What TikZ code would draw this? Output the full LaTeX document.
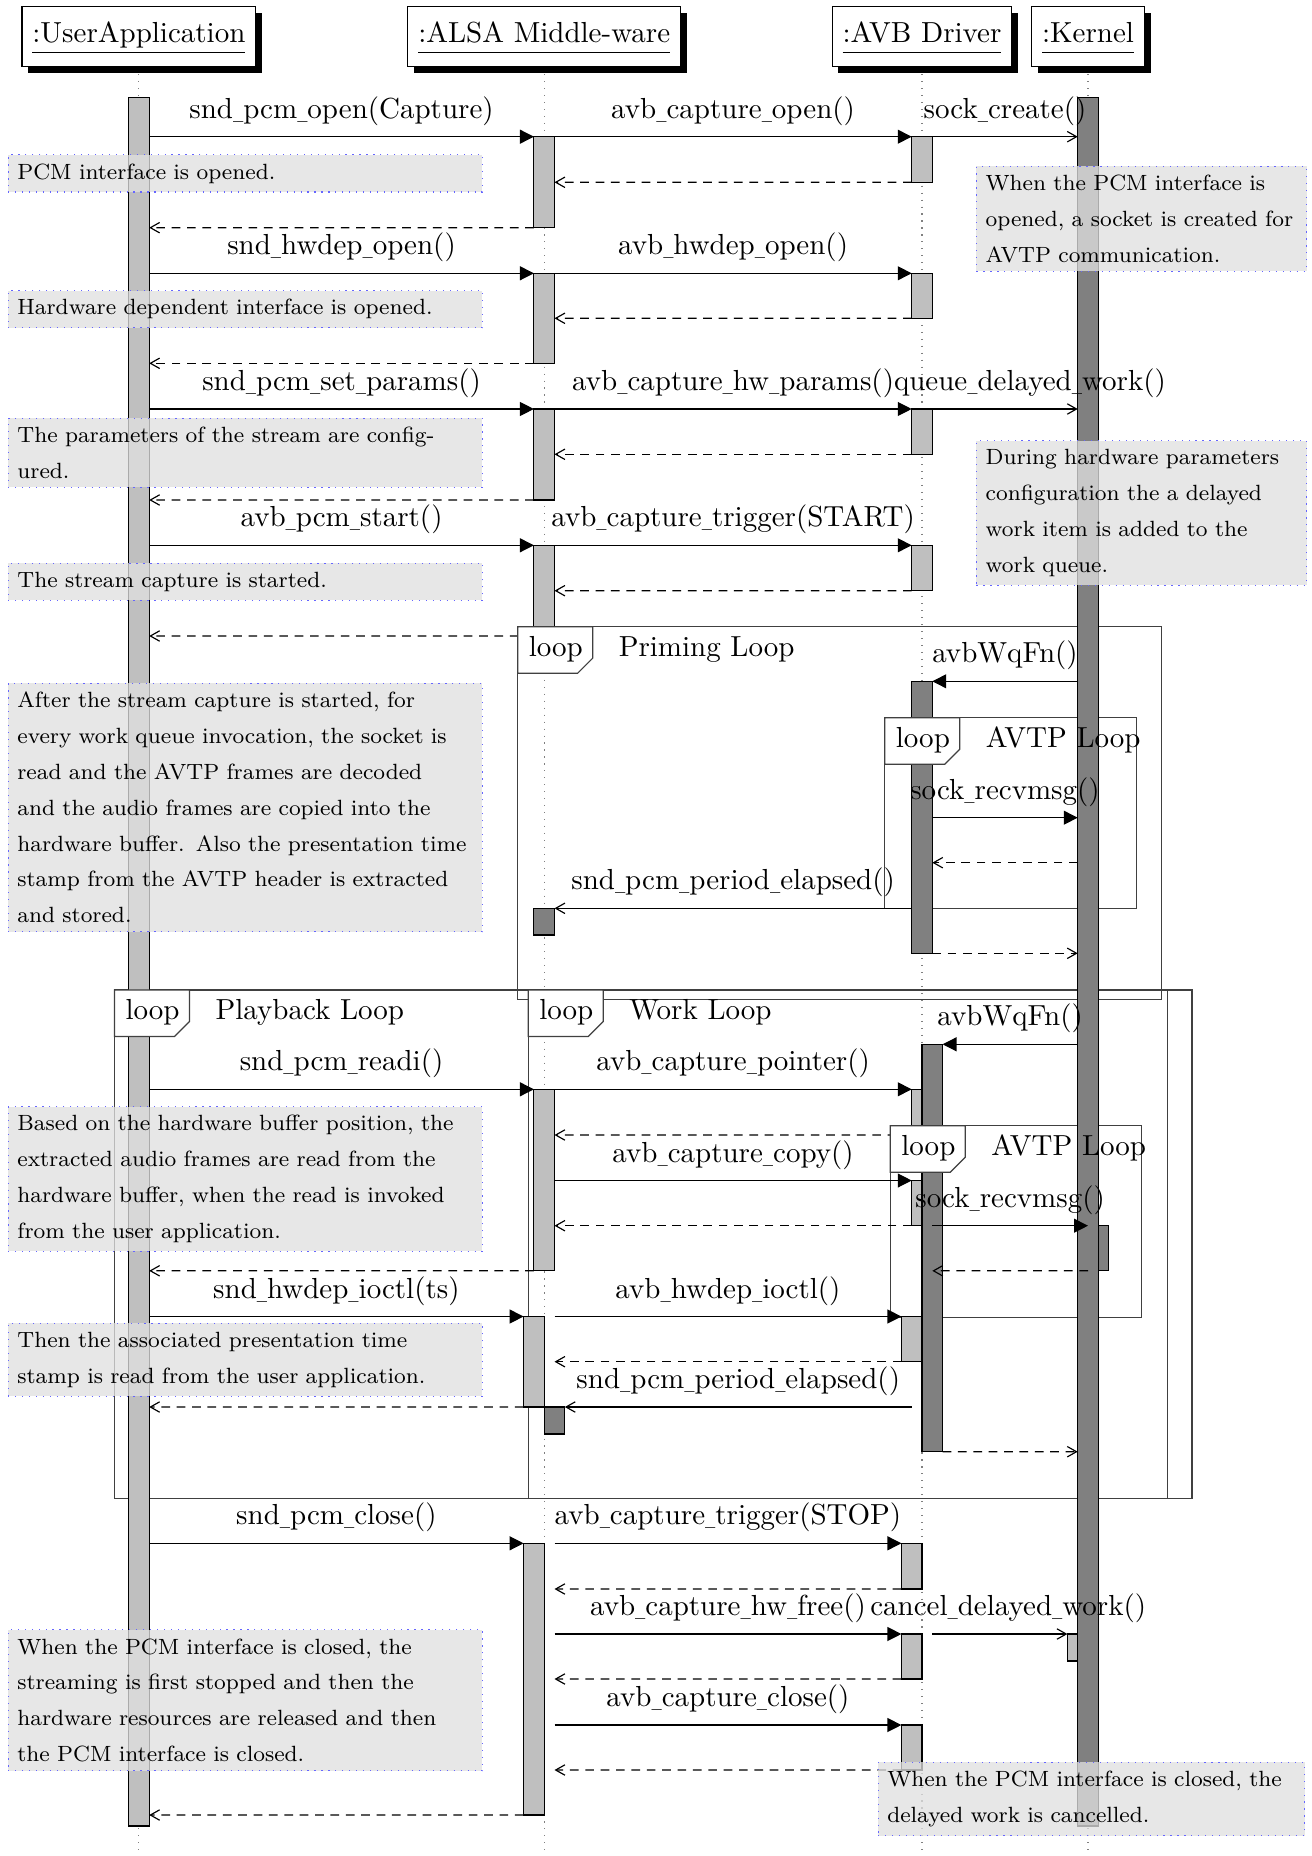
\documentclass[tikz,border=0pt]{standalone}
\usepackage{graphicx}
\usetikzlibrary{arrows.meta,shadows}
% narrow underscore used in the call names
\newcommand{\us}{\scalebox{0.47}[1]{\_}}
% activation bar: style, x1, y1, x2, y2, name
\newcommand{\actbar}[6]{\node[#1, anchor=north west, minimum width={(#4-#2)*0.3448pt}, minimum height={(#5-#3)*0.3448pt}] (#6) at (#2,#3) {};}
% loop tag: x, y, title, name
\newcommand{\looptag}[4]{%
  \filldraw[looptag] (#1,#2) -- ++(75,0) -- ++(0,31.5) -- ++(-15,15) -- ++(-60,0) -- cycle;
  \node[looptxt] (#4k) at (#1+10.5,#2+29.5) {loop};
  \node[looptxt] (#4t) at (#1+100.5,#2+29.5) {#3};}
\begin{document}
\begin{tikzpicture}[x=0.3448pt,y=-0.3448pt,
  lifeline/.style={draw=gray, dotted},
  head/.style={draw=black, fill=white, inner xsep=3.6pt, inner ysep=0pt, minimum height=20.7pt,
    text height=6.94pt, text depth=2.8pt,
    drop shadow={shadow xshift=2.1pt, shadow yshift=-2.3pt, opacity=1, fill=black}},
  actlight/.style={draw=black, fill=black!25, inner sep=0pt, outer sep=0pt},
  actdark/.style={draw=black, fill=black!50, inner sep=0pt, outer sep=0pt},
  call/.style={draw, -{Triangle[length=4.8pt,width=4.8pt]}},
  mess/.style={draw, -{Straight Barb[length=3.2pt,width=3.6pt]}},
  ret/.style={draw, dash pattern=on 3pt off 2.3pt, -{Straight Barb[length=3.2pt,width=3.6pt]}},
  lbl/.style={midway, anchor=base, yshift=6.34pt, inner sep=0pt},
  frame/.style={draw=black!75},
  looptag/.style={draw=black!75, fill=white},
  looptxt/.style={anchor=base west, inner sep=0pt},
  note/.style={anchor=north west, draw=blue!60, dotted, fill=black!12, fill opacity=0.76,
    text opacity=1, inner xsep=3.17pt, inner ysep=3pt, align=left,
    font=\fontsize{7.6pt}{12.36pt}\selectfont},
]
\useasboundingbox (0,0) rectangle (1311,1856);

% row levels
\foreach \n/\yy in {1/136.7,2/182.3,3/227.7,4/273.3,5/318.3,6/363.3,7/409,8/454.3,9/500,
  10/545.3,11/590.7,12/636,13/681.3,14/817.7,15/862.7,16/908.3,17/953.3,18/1044.3,
  19/1089.3,20/1135,21/1180.5,22/1225.7,23/1270.8,24/1316.5,25/1361.7,26/1407,
  27/1451.7,28/1543.3,29/1589,30/1634,31/1679,32/1725,33/1770,34/1815}
  {\coordinate (r\n) at (0,\yy);}
\coordinate (bot) at (0,1856);
\coordinate (Ar) at (554.5,0);
\coordinate (Vl) at (911.7,0);
\coordinate (Vr) at (932.3,0);

% lifeline heads
\node[head] (hU) at (138.9,36.7) {\underline{\vphantom{p}:UserApplication}};
\node[head] (hA) at (544.2,36.7) {\underline{\vphantom{p}:ALSA Middle-ware}};
\node[head] (hV) at (922,36.7) {\underline{\vphantom{p}:AVB Driver}};
\node[head] (hK) at (1088,36.7) {\underline{\vphantom{p}:Kernel}};

% lifelines
\draw[lifeline] ([yshift=-2.4pt]hU.south) -- (hU.south |- bot);
\draw[lifeline] ([yshift=-2.4pt]hA.south) -- (hA.south |- bot);
\draw[lifeline] ([yshift=-2.4pt]hV.south) -- (hV.south |- bot);
\draw[lifeline] ([yshift=-2.4pt]hK.south) -- (hK.south |- bot);

% combined fragments
\draw[frame] (517.7,626.7) rectangle (1161.2,999.3);
\draw[frame] (114.5,990) rectangle (1192,1498.3);
\draw[frame] (528.2,990) rectangle (1167.2,1498.3);
\draw[frame] (884.8,717.7) rectangle (1136.4,908.7);
\draw[frame] (890.3,1125.7) rectangle (1141.5,1317.3);

% activation bars
\actbar{actlight}{128.6}{97.7}{149.2}{1826}{bU}
\actbar{actlight}{1067.4}{1634}{1088}{1661}{bKc}
\actbar{actdark}{1088}{1225.7}{1108.6}{1270.8}{bKr}
\actbar{actdark}{1077.7}{97.7}{1098.3}{1826}{bK}

\actbar{actlight}{533.9}{136.7}{554.5}{227.7}{bA1}
\actbar{actlight}{533.9}{273.3}{554.5}{363.3}{bA2}
\actbar{actlight}{533.9}{409}{554.5}{500}{bA3}
\actbar{actlight}{533.9}{545.3}{554.5}{636}{bA4}
\actbar{actlight}{533.9}{1089.3}{554.5}{1270.8}{bA5}
\actbar{actlight}{523.6}{1316.5}{544.2}{1407}{bA6}
\actbar{actlight}{523.6}{1543.3}{544.2}{1815}{bA7}
\actbar{actdark}{533.9}{908.3}{554.5}{935}{bA8}
\actbar{actdark}{544.2}{1407}{564.8}{1434}{bA9}

\actbar{actlight}{911.7}{136.7}{932.3}{182.3}{bV1}
\actbar{actlight}{911.7}{273.3}{932.3}{318.3}{bV2}
\actbar{actlight}{911.7}{409}{932.3}{454.3}{bV3}
\actbar{actlight}{911.7}{545.3}{932.3}{590.7}{bV4}
\actbar{actdark}{911.7}{681.3}{932.3}{953.3}{bV5}
\actbar{actlight}{911.7}{1089.3}{932.3}{1135}{bV6}
\actbar{actlight}{911.7}{1180.5}{932.3}{1225.7}{bV7}
\actbar{actdark}{922}{1044.3}{942.6}{1451.7}{bVw}
\actbar{actlight}{901.4}{1316.5}{922}{1361.7}{bV8}
\actbar{actlight}{901.4}{1543.3}{922}{1589}{bV9}
\actbar{actlight}{901.4}{1634}{922}{1679}{bV10}
\actbar{actlight}{901.4}{1725}{922}{1770}{bV11}

% open
\draw[call] (bU.east|-r1) -- node[lbl] (l1) {snd\us pcm\us open(Capture)} (bA1.north west);
\draw[call] (bA1.east|-r1) -- node[lbl] (l2) {avb\us capture\us open()} (bV1.north west);
\draw[mess] (bV1.east|-r1) -- node[lbl] (l3) {sock\us create()} (bK.west|-r1);
\draw[ret] (bV1.south west) -- (bA1.east|-r2);
\draw[ret] (bA1.south west) -- (bU.east|-r3);
% hwdep open
\draw[call] (bU.east|-r4) -- node[lbl] (l4) {snd\us hwdep\us open()} (bA2.north west);
\draw[call] (bA2.east|-r4) -- node[lbl] (l5) {avb\us hwdep\us open()} (bV2.north west);
\draw[ret] (bV2.south west) -- (bA2.east|-r5);
\draw[ret] (bA2.south west) -- (bU.east|-r6);
% params
\draw[call] (bU.east|-r7) -- node[lbl] (l6) {snd\us pcm\us set\us params()} (bA3.north west);
\draw[call] (bA3.east|-r7) -- node[lbl] (l7) {avb\us capture\us hw\us params()} (bV3.north west);
\draw[mess] (bV3.east|-r7) -- node[lbl, xshift=8.6pt] (l8) {queue\us delayed\us work()} (bK.west|-r7);
\draw[ret] (bV3.south west) -- (bA3.east|-r8);
\draw[ret] (bA3.south west) -- (bU.east|-r9);
% start
\draw[call] (bU.east|-r10) -- node[lbl] (l9) {avb\us pcm\us start()} (bA4.north west);
\draw[call] (bA4.east|-r10) -- node[lbl] (l10) {avb\us capture\us trigger(START)} (bV4.north west);
\draw[ret] (bV4.south west) -- (bA4.east|-r11);
\draw[ret] (bA4.south west) -- (bU.east|-r12);
% priming loop
\draw[call] (bK.west|-r13) -- node[lbl] (l11) {avbWqFn()} (bV5.north east);
\draw[call] (bV5.east|-r14) -- node[lbl] (l12) {sock\us recvmsg()} (bK.west|-r14);
\draw[ret] (bK.west|-r15) -- (bV5.east|-r15);
\draw[mess] (bV5.west|-r16) -- node[lbl] (l13) {snd\us pcm\us period\us elapsed()} (bA8.north east);
\draw[ret] (bV5.south east) -- (bK.west|-r17);
% work loop
\draw[call] (bK.west|-r18) -- node[lbl] (l14) {avbWqFn()} (bVw.north east);
\draw[call] (bU.east|-r19) -- node[lbl] (l15) {snd\us pcm\us readi()} (bA5.north west);
\draw[call] (bA5.east|-r19) -- node[lbl] (l16) {avb\us capture\us pointer()} (bV6.north west);
\draw[ret] (bV6.south west) -- (bA5.east|-r20);
\draw[call] (bA5.east|-r21) -- node[lbl] (l17) {avb\us capture\us copy()} (bV7.north west);
\draw[ret] (bV7.south west) -- (bA5.east|-r22);
\draw[call] (Vr|-r22) -- node[lbl] (l18) {sock\us recvmsg()} (bKr.north west);
\draw[ret] (bKr.south west) -- (Vr|-r23);
\draw[ret] (bA5.south west) -- (bU.east|-r23);
\draw[call] (bU.east|-r24) -- node[lbl] (l19) {snd\us hwdep\us ioctl(ts)} (bA6.north west);
\draw[call] (Ar|-r24) -- node[lbl] (l20) {avb\us hwdep\us ioctl()} (bV8.north west);
\draw[ret] (bV8.south west) -- (Ar|-r25);
\draw[mess] (Vl|-r26) -- node[lbl] (l21) {snd\us pcm\us period\us elapsed()} (bA9.north east);
\draw[ret] (bA6.south west) -- (bU.east|-r26);
\draw[ret] (bVw.south east) -- (bK.west|-r27);
% close
\draw[call] (bU.east|-r28) -- node[lbl] (l22) {snd\us pcm\us close()} (bA7.north west);
\draw[call] (Ar|-r28) -- node[lbl] (l23) {avb\us capture\us trigger(STOP)} (bV9.north west);
\draw[ret] (bV9.south west) -- (Ar|-r29);
\draw[call] (Ar|-r30) -- node[lbl] (l24) {avb\us capture\us hw\us free()} (bV10.north west);
\draw[mess] (Vr|-r30) -- node[lbl, xshift=2.9pt] (l25) {cancel\us delayed\us work()} (bKc.north west);
\draw[ret] (bV10.south west) -- (Ar|-r31);
\draw[call] (Ar|-r32) -- node[lbl] (l26) {avb\us capture\us close()} (bV11.north west);
\draw[ret] (bV11.south west) -- (Ar|-r33);
\draw[ret] (bA7.south west) -- (bU.east|-r34);

% fragment tags
\looptag{517.7}{626.7}{Priming Loop}{fp}
\looptag{884.8}{717.7}{AVTP Loop}{fa}
\looptag{114.5}{990}{Playback Loop}{fb}
\looptag{528.2}{990}{Work Loop}{fw}
\looptag{890.3}{1125.7}{AVTP Loop}{fc}

% notes
\node[note, text width=157.2pt] (n1) at (7.6,154.3) {\mbox{PCM interface is opened.}};
\node[note, text width=157.2pt] (n2) at (7.6,290) {\mbox{Hardware dependent interface is opened.}};
\node[note, text width=107.5pt] (n3) at (975.9,165.7) {\mbox{When the PCM interface is}\\\mbox{opened, a socket is created for}\\\mbox{AVTP communication.}};
\node[note, text width=157.2pt] (n4) at (7.6,417.7) {\mbox{The parameters of the stream are config-}\\\mbox{ured.}};
\node[note, text width=157.2pt] (n5) at (7.6,562.7) {\mbox{The stream capture is started.}};
\node[note, text width=107.5pt] (n6) at (975.9,440) {\mbox{During hardware parameters}\\\mbox{configuration the a delayed}\\\mbox{work item is added to the}\\\mbox{work queue.}};
\node[note, text width=157.2pt] (n7) at (7.6,682.7) {\mbox{After the stream capture is started, for}\\\mbox{every work queue invocation, the socket is}\\\mbox{read and the AVTP frames are decoded}\\\mbox{and the audio frames are copied into the}\\\mbox{hardware buffer.  Also the presentation time}\\\mbox{stamp from the AVTP header is extracted}\\\mbox{and stored.}};
\node[note, text width=157.2pt] (n8) at (7.6,1106) {\mbox{Based on the hardware buffer position, the}\\\mbox{extracted audio frames are read from the}\\\mbox{hardware buffer, when the read is invoked}\\\mbox{from the user application.}};
\node[note, text width=157.2pt] (n9) at (7.6,1322.7) {\mbox{Then the associated presentation time}\\\mbox{stamp is read from the user application.}};
\node[note, text width=157.2pt] (n10) at (7.6,1629.3) {\mbox{When the PCM interface is closed, the}\\\mbox{streaming is first stopped and then the}\\\mbox{hardware resources are released and then}\\\mbox{the PCM interface is closed.}};
\node[note, text width=140.7pt] (n11) at (877.5,1761.7) {\mbox{When the PCM interface is closed, the}\\\mbox{delayed work is cancelled.}};
\end{tikzpicture}
\end{document}
